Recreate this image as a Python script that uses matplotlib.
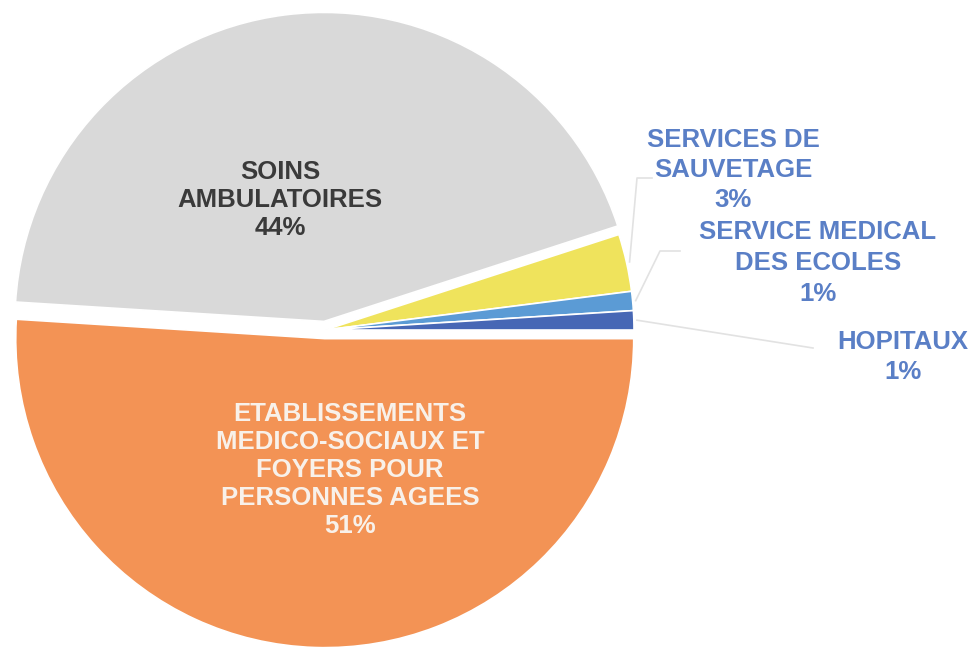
import numpy as np
import matplotlib
matplotlib.use("Agg")
import matplotlib.pyplot as plt

plt.rcParams['font.family'] = ['Liberation Sans', 'DejaVu Sans']

# data
categories = ['ETABLISSEMENTS\nMEDICO-SOCIAUX ET\nFOYERS POUR\nPERSONNES AGEES',
              'SOINS\nAMBULATOIRES',
              'SERVICES DE\nSAUVETAGE',
              'SERVICE MEDICAL\nDES ECOLES',
              'HOPITAUX']
shares = [51, 44, 3, 1, 1]
colors = ['#f39355', '#d9d9d9', '#efe35c', '#5b9bd5', '#4767b5']
explode = [0.028, 0.028, 0, 0, 0]

W, H = 975, 647
CX, CY, R = 325, 330, 309  # pie centre / radius in pixels

fig = plt.figure(figsize=(W / 100, H / 100), dpi=100)
ax = fig.add_axes([0, 0, 1, 1])

wedges, _ = ax.pie(shares, colors=colors, explode=explode, startangle=0,
                   counterclock=False, radius=1,
                   wedgeprops=dict(edgecolor='white', linewidth=1.2))

ax.set_xlim(-CX / R, (W - CX) / R)
ax.set_ylim(-(H - CY) / R, CY / R)
ax.set_aspect('equal', adjustable='datalim')
ax.axis('off')


def fig_xy(px, py):
    return px / W, 1 - py / H


def to_data(px, py):
    return (px - CX) / R, (CY - py) / R


labels = [f'{c}\n{s}%' for c, s in zip(categories, shares)]

# labels inside the two big slices
fig.text(*fig_xy(350, 470), labels[0], ha='center', va='center',
         fontsize=18.5, fontweight='bold', color='#f8f1ea', linespacing=1.22)
fig.text(*fig_xy(280, 200), labels[1], ha='center', va='center',
         fontsize=18.5, fontweight='bold', color='#3a3a3a', linespacing=1.22)

# outside labels for the small slices
blue = '#5a7fc6'
outside = [(2, (733, 170), 1.3), (3, (818, 263), 1.38), (4, (903, 357), 1.35)]
for idx, (px, py), ls in outside:
    fig.text(*fig_xy(px, py), labels[idx], ha='center', va='center',
             fontsize=18.5, fontweight='bold', color=blue, linespacing=ls)

# leader lines from the small wedges
line_pts = {2: [(637, 178), (652, 178)],
            3: [(660, 251), (680, 251)],
            4: [(813, 348)]}
for idx, pts in line_pts.items():
    w = wedges[idx]
    mid = np.deg2rad((w.theta1 + w.theta2) / 2)
    x0, y0 = np.cos(mid) * 1.01, np.sin(mid) * 1.01
    xs = [x0] + [to_data(*p)[0] for p in pts]
    ys = [y0] + [to_data(*p)[1] for p in pts]
    ax.plot(xs, ys, color='#e2e2e2', lw=1.2)

fig.savefig('out.png', dpi=100)
